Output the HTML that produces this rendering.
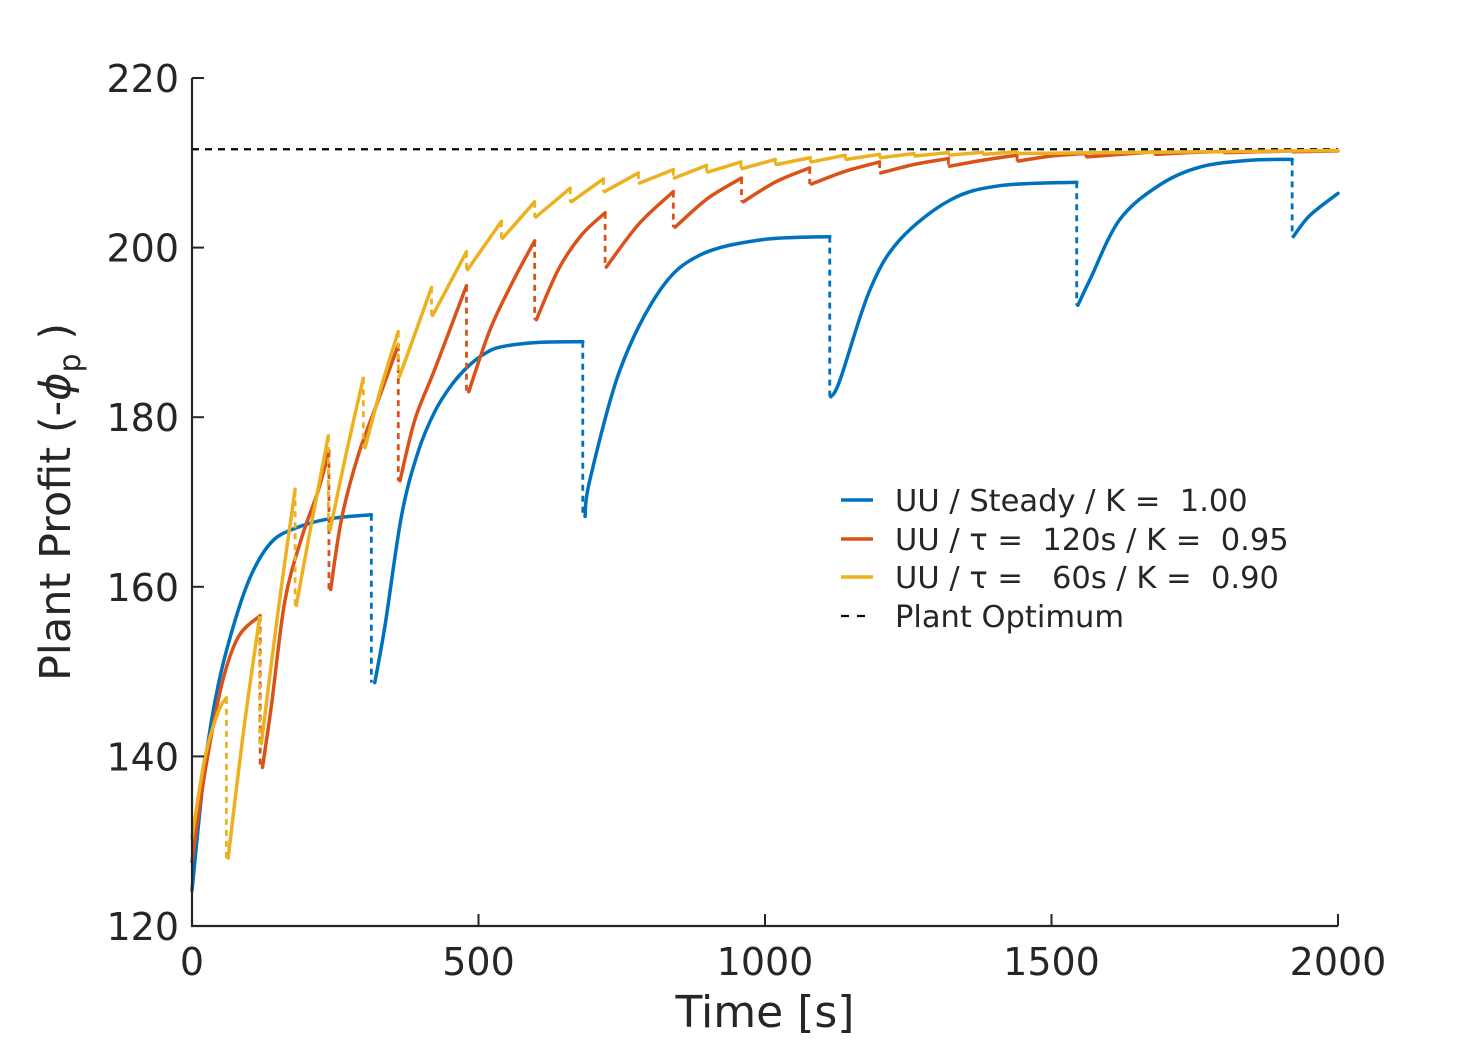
<!DOCTYPE html>
<html><head><meta charset="utf-8"><style>
html,body{margin:0;padding:0;background:#fff}
svg text{font-family:"DejaVu Sans","Liberation Sans",sans-serif;fill:#262626}
</style></head><body>
<svg id="chart" width="1478" height="1040" viewBox="0 0 1478 1040" xmlns="http://www.w3.org/2000/svg">
<g id="series"></g>
<g id="axes"></g>
<g id="legend"></g>
</svg>
<script>
const xTicks=[0,500,1000,1500,2000];
const yTicks=[120,140,160,180,200,220];
const optimumValue=211.6;
// Steady series segments
const blueT=[[0,23,46,75,104,139,180,238,313],[319,337,366,395,424,453,482,511,540,600,682],[686,694,747,817,886,991,1113],[1115,1131,1183,1235,1323,1410,1544],[1546,1567,1619,1689,1759,1846,1920],[1922,1951,2000]];
const blueV=[[124.2,139.2,148.5,156,161.5,165.3,166.9,168,168.5],[148.7,155.5,168.5,176,180.7,183.8,186,187.5,188.3,188.8,188.9],[168.3,172.5,185.6,195,199.1,200.9,201.3],[182.4,184.4,195,200.9,205.6,207.3,207.7],[193.2,196.2,203.3,207.4,209.5,210.3,210.4],[201.3,203.8,206.4]];
// tau=120s series
const redT=[[0,23,52,81,119],[123,139,162,191,220,239],[242,261,290,325,360],[363,389,424,479],[483,520,560,598],[601,640,680,721],[723,780,840],[843,900,959],[962,1020,1078],[1081,1140,1200],[1202,1260,1320],[1322,1380,1440],[1442,1500,1560],[1562,1620,1680],[1682,1740,1800],[1802,1860,1920],[1922,2000]];
const redV=[[127.6,138.3,148.5,154.1,156.6],[138.7,146.2,158.3,165.7,171.3,176],[159.7,168,175.5,182,188.5],[172.5,179.7,185.7,195.5],[183,190.3,196,200.8],[191.5,197.5,201.5,204.1],[197.7,202.8,206.6],[202.4,205.8,208.2],[205.4,207.8,209.4],[207.5,209,210.1],[208.8,209.8,210.5],[209.6,210.3,210.9],[210.2,210.8,211.1],[210.7,211,211.3],[211,211.2,211.35],[211.2,211.3,211.4],[211.3,211.4]];
// tau=60s series
const yelT=[[0,23,46,60],[63,90,118],[121,150,180],[182,210,238],[241,270,299],[302,330,360],[362,390,418],[420,479],[481,540],[542,598],[600,660],[662,718],[720,779],[781,840],[842,898],[900,958],[960,1018],[1020,1079],[1081,1140],[1142,1200],[1202,1260],[1262,1320],[1322,1380],[1382,1440],[1442,2000]];
const yelV=[[130.4,140,145.3,146.9],[128,143,156.4],[141.5,157,171.5],[157.8,168,177.8],[166.7,176,184.6],[176.4,183.5,190.1],[184.8,190,195.3],[192,199.5],[197.4,203.1],[201.1,205.4],[203.6,207],[205.4,208.1],[206.6,208.8],[207.6,209.2],[208.2,209.7],[208.9,210.1],[209.3,210.4],[209.8,210.6],[210.1,210.9],[210.4,211],[210.6,211.1],[210.8,211.2],[210.9,211.25],[211.0,211.3],[211.1,211.45]];

const X0=192,X1=1338,Y0=926,Y1=78;
function sx(t){return X0+(t-0)/(2000-0)*(X1-X0);}
function sy(v){return Y0-(v-120)/(220-120)*(Y0-Y1);}
const NS="http://www.w3.org/2000/svg";
function mk(tag,attrs,parent){const e=document.createElementNS(NS,tag);for(const k in attrs)e.setAttribute(k,attrs[k]);parent.appendChild(e);return e;}
function smooth(pts){
  let d="M"+pts[0][0].toFixed(2)+","+pts[0][1].toFixed(2);
  for(let i=0;i<pts.length-1;i++){
    const p0=pts[Math.max(0,i-1)],p1=pts[i],p2=pts[i+1],p3=pts[Math.min(pts.length-1,i+2)];
    const c1x=p1[0]+(p2[0]-p0[0])/6,c1y=p1[1]+(p2[1]-p0[1])/6;
    const c2x=p2[0]-(p3[0]-p1[0])/6,c2y=p2[1]-(p3[1]-p1[1])/6;
    d+=" C"+c1x.toFixed(2)+","+c1y.toFixed(2)+" "+c2x.toFixed(2)+","+c2y.toFixed(2)+" "+p2[0].toFixed(2)+","+p2[1].toFixed(2);
  }
  return d;
}
const sg=document.getElementById('series');
function drawSeries(T,V,color,name){
  const g=mk('g',{},sg);
  
  
  for(let s=0;s<T.length;s++){
    const pts=T[s].map((t,i)=>[sx(t),sy(V[s][i])]);
    const p=mk('path',{d:smooth(pts),fill:'none',stroke:color,'stroke-width':3.5,'stroke-linejoin':'round','stroke-linecap':'round'},g);
    
    
    if(s<T.length-1){
      const e=T[s].length-1;
      const l=mk('line',{x1:sx(T[s][e]),y1:sy(V[s][e]),x2:sx(T[s][e]),y2:sy(V[s+1][0]),stroke:color,'stroke-width':2.8,'stroke-dasharray':'6,5'},g);
      
      
    }
  }
}
const opt=mk('line',{x1:X0,x2:X1,y1:sy(optimumValue),y2:sy(optimumValue),stroke:'#000','stroke-width':2.2,'stroke-dasharray':'7,6'},sg);


drawSeries(blueT,blueV,'#0072BD','steady-series');
drawSeries(redT,redV,'#D95319','tau120-series');
drawSeries(yelT,yelV,'#EDB120','tau60-series');

const ax=document.getElementById('axes');
let a=mk('path',{d:`M${X0},${Y1} L${X0},${Y0} L${X1},${Y0}`,fill:'none',stroke:'#262626','stroke-width':2.2},ax);


xTicks.forEach(v=>{
  const t=mk('line',{x1:sx(v),x2:sx(v),y1:Y0,y2:Y0-12,stroke:'#262626','stroke-width':2},ax);
  
  
  const tx=mk('text',{x:sx(v),y:975,'text-anchor':'middle','font-size':38},ax);
  tx.textContent=v;
  
  
});
yTicks.forEach(v=>{
  const t=mk('line',{x1:X0,x2:X0+12,y1:sy(v),y2:sy(v),stroke:'#262626','stroke-width':2},ax);
  
  
  const tx=mk('text',{x:179,y:sy(v)+14,'text-anchor':'end','font-size':38},ax);
  tx.textContent=v;
  
  
});
</script>
<svg style="position:absolute;left:0;top:0" width="1478" height="1040">
<text x="765" y="1027" text-anchor="middle" font-size="44">Time [s]</text>
<text transform="translate(70,502) rotate(-90)" text-anchor="middle" font-size="43">Plant Profit (-<tspan font-style="italic">ϕ</tspan><tspan font-size="30" dy="10">p</tspan><tspan dy="-10"> )</tspan></text>
<g font-size="30.5">
<line x1="841" x2="873" y1="500" y2="500" stroke="#0072BD" stroke-width="3.5"/>
<text x="895" y="511" xml:space="preserve">UU / Steady / K =  1.00</text>
<line x1="841" x2="873" y1="539" y2="539" stroke="#D95319" stroke-width="3.5"/>
<text x="895" y="550" xml:space="preserve">UU / τ =  120s / K =  0.95</text>
<line x1="841" x2="873" y1="577" y2="577" stroke="#EDB120" stroke-width="3.5"/>
<text x="895" y="588" xml:space="preserve">UU / τ =   60s / K =  0.90</text>
<line x1="841" x2="873" y1="616" y2="616" stroke="#000" stroke-width="2.2" stroke-dasharray="8,8"/>
<text x="895" y="627">Plant Optimum</text>
</g>
</svg>
</body></html>
